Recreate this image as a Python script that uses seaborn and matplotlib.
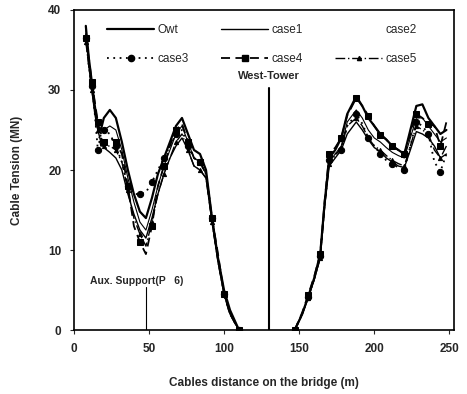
import numpy as np
import pandas as pd
import matplotlib
matplotlib.use("Agg")
import matplotlib.pyplot as plt
from matplotlib.lines import Line2D
import seaborn as sns

sns.set_theme(style="white")
plt.rcParams['font.family'] = ['Liberation Sans', 'DejaVu Sans']

# ---- data ----
x_left = [8, 10, 12, 14, 16, 18, 20, 24, 28, 32, 36, 40, 44, 48, 52, 56, 60, 64, 68, 72,
          76, 80, 84, 88, 92, 96, 100, 104, 110]
x_right = [147, 152, 156, 160, 164, 167, 170, 174, 178, 182, 188, 192, 196, 200, 204, 208,
           212, 216, 220, 224, 228, 232, 236, 240, 244, 248]

owt_left = [38, 34, 31, 28, 25.5, 25, 26.5, 27.5, 26.5, 23.5, 20, 17, 14.8, 14, 16.5, 19.5,
            21.5, 23.5, 25.5, 26.5, 24.5, 22.5, 22, 20, 14, 9, 5, 2.5, 0]
case1_left = [37, 33, 30, 27, 25, 23.5, 22.8, 22.2, 21.5, 20, 17, 14.5, 12.5, 11.5, 14, 17,
              19.5, 21.5, 23, 24, 22.5, 20.5, 20, 19, 13.5, 8.5, 4.5, 2, 0]
case2_left = [37.5, 33.5, 30.5, 27.5, 25.5, 24.5, 25, 25.5, 25, 22.5, 19, 16, 13.5, 12.5, 15,
              18, 20.5, 22.5, 24.5, 25.5, 23.5, 21.5, 21, 19.5, 14, 9, 4.8, 2.2, 0]
case3_left = [36.5, 33, 30.5, 27, 22.5, 24.5, 25, 24.5, 23, 21, 18, 17, 17, 17.2, 18.5, 20,
              21.5, 23, 24.5, 25, 23, 21.5, 21, 19.5, 14, 9, 4.5, 2, 0]
case4_left = [36.5, 34, 31, 28.5, 26, 24, 23.5, 24, 23.5, 22, 18, 13, 11, 9.5, 13, 18,
              20.5, 23, 25, 25.8, 23.5, 21.5, 21, 19.5, 14, 9.5, 4.5, 2, 0]
case5_left = [36, 33, 30, 27.5, 25, 23, 23, 23, 22.5, 21, 17.5, 14, 12, 10.5, 13.5, 17,
              19.5, 21.5, 23.5, 24.5, 22.5, 20.5, 20, 19, 13.5, 8.5, 4.5, 2, 0]

owt_right = [0, 2, 4.2, 6.5, 9.5, 16, 21.5, 22.5, 24, 27, 29.2, 28, 26.5, 25.5, 24.5, 23.8,
             23, 22.5, 22, 25, 28, 28.2, 26.5, 25.5, 24.5, 25]
case1_right = [0, 2, 4, 6.3, 9, 15.5, 20.5, 21.5, 22.5, 24.5, 26, 25, 23.8, 22.8, 22.3, 21.5,
               21, 20.5, 20.3, 22.5, 24.8, 24.5, 24, 23, 21.5, 22]
case2_right = [0, 2, 4.1, 6.4, 9.2, 15.8, 21, 22, 23, 26, 27.5, 26.5, 25, 24, 23.5, 22.8,
               22.2, 21.8, 21.5, 24, 26.5, 26.5, 25.5, 24.5, 23.5, 24]
case3_right = [0, 2, 4.2, 6.5, 9.2, 15.8, 21.2, 22, 22.5, 25.5, 27, 25.8, 24, 23, 22, 21.2,
               20.8, 20.3, 20, 23, 26, 25.5, 24.5, 21, 19.8, 22]
case4_right = [0, 2.2, 4.4, 6.7, 9.5, 16.2, 22, 22.8, 24, 26.8, 29, 28, 26.8, 25.5, 24.4, 23.8,
               23, 22.5, 22, 24.5, 27, 26.5, 25.8, 25.5, 23, 26]
case5_right = [0, 2, 4, 6.3, 9, 15.6, 20.8, 21.8, 22.8, 25.5, 26.5, 25.5, 24, 23, 22.5, 21.8,
               21.2, 20.8, 20.5, 23, 25.5, 25, 24.5, 22.5, 21.5, 23]

series_names = ["Owt", "case1", "case2", "case3", "case4", "case5"]
left_vals = [owt_left, case1_left, case2_left, case3_left, case4_left, case5_left]
right_vals = [owt_right, case1_right, case2_right, case3_right, case4_right, case5_right]

styles = {
    "Owt":   dict(ls="-", lw=1.6, marker=None, ms=0),
    "case1": dict(ls="-", lw=1.0, marker=None, ms=0),
    "case2": dict(ls="-", lw=0.8, marker=None, ms=0),
    "case3": dict(ls=(0, (1, 2.5)), lw=1.3, marker="o", ms=4.5),
    "case4": dict(ls=(0, (5, 3)), lw=1.3, marker="s", ms=4.5),
    "case5": dict(ls=(0, (7, 2, 1, 2)), lw=1.0, marker="^", ms=3),
}

rows = []
for name, lv, rv in zip(series_names, left_vals, right_vals):
    for xx, yy in zip(x_left, lv):
        rows.append((name, "L", xx, yy))
    for xx, yy in zip(x_right, rv):
        rows.append((name, "R", xx, yy))
df = pd.DataFrame(rows, columns=["series", "seg", "x", "y"])

fig = plt.figure(figsize=(4.67, 3.94), dpi=100)
ax = fig.add_axes([0.158, 0.162, 0.814, 0.813])

for name in series_names:
    st = styles[name]
    for seg in ["L", "R"]:
        d = df[(df.series == name) & (df.seg == seg)]
        sns.lineplot(data=d, x="x", y="y", ax=ax, color="black", linestyle=st["ls"],
                     linewidth=st["lw"], marker=st["marker"], markersize=st["ms"],
                     markeredgecolor="black", markerfacecolor="black",
                     markevery=2 if st["marker"] else None,
                     estimator=None, sort=False, legend=False)

# structural markers
ax.plot([130, 130], [0, 30.2], color="black", lw=1.5)
ax.text(130, 31.8, "West-Tower", ha="center", va="center", fontsize=8, fontweight="bold")
ax.plot([48, 48], [0, 5.4], color="black", lw=0.8)
ax.text(10.5, 6.2, "Aux. Support(P   6)", ha="left", va="center", fontsize=7.5, fontweight="bold")

ax.set_xlim(0, 253)
ax.set_ylim(0, 40)
ax.set_xticks([0, 50, 100, 150, 200, 250])
ax.set_yticks([0, 10, 20, 30, 40])
ax.set_xlabel("Cables distance on the bridge (m)", fontsize=8.5, fontweight="bold", labelpad=16)
ax.set_ylabel("Cable Tension (MN)", fontsize=8.5, fontweight="bold", labelpad=18)
ax.tick_params(axis="both", direction="out", length=3, width=0.8, labelsize=8.5, pad=6,
               left=True, bottom=True)
for lab in ax.get_xticklabels() + ax.get_yticklabels():
    lab.set_fontweight("bold")
for sp in ax.spines.values():
    sp.set_color("black")
    sp.set_linewidth(1.2)

handles = {}
for name in series_names:
    st = styles[name]
    if name == "case2":
        handles[name] = Line2D([], [], linestyle="none", color="black")
    else:
        handles[name] = Line2D([], [], color="black", linestyle=st["ls"], linewidth=st["lw"],
                               marker=st["marker"], markersize=st["ms"])
order = ["Owt", "case3", "case1", "case4", "case2", "case5"]
ax.legend([handles[n] for n in order], order, ncol=3, loc="upper left",
          bbox_to_anchor=(0.06, 0.99), frameon=False, fontsize=8.5,
          handlelength=4.0, columnspacing=2.7, handletextpad=0.3, labelspacing=1.45,
          markerfirst=True)

fig.savefig("out.png", dpi=100)
